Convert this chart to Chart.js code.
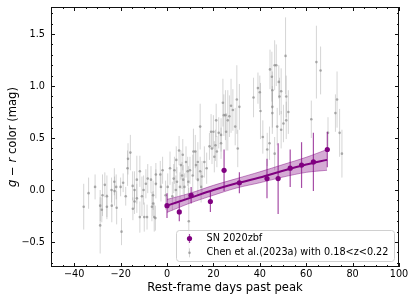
<!DOCTYPE html>
<html>
<head>
<meta charset="utf-8">
<script src="https://cdn.jsdelivr.net/npm/chart.js@4.4.1/dist/chart.umd.min.js"></script>
<style>
  html, body { margin: 0; padding: 0; background: #fff; }
  canvas { display: block; }
</style>
</head>
<body>
<canvas id="chart" width="415" height="302"></canvas>
<script>
// SN 2020zbf g-r colour
var snDays  = [0.0, 5.3, 10.4, 18.7, 24.6, 31.2, 43.1, 47.9, 53.1, 58.0, 63.1, 69.1];
var snColor = [-0.15, -0.21, -0.05, -0.11, 0.19, 0.07, 0.11, 0.11, 0.21, 0.24, 0.27, 0.39];
var snErr   = [0.12, 0.09, 0.08, 0.10, 0.20, 0.10, 0.19, 0.34, 0.18, 0.22, 0.28, 0.17];

// fit to SN 2020zbf with its band
var fitDays = [0, 10, 20, 30, 40, 50, 60, 69];
var fitMid  = [-0.15, -0.075, 0.0, 0.065, 0.12, 0.185, 0.245, 0.29];
var fitLow  = [-0.215, -0.125, -0.05, 0.02, 0.07, 0.125, 0.17, 0.19];
var fitHigh = [-0.09, -0.03, 0.045, 0.11, 0.175, 0.245, 0.315, 0.39];

// comparison sample, Chen et al. (2023a), 0.18<z<0.22
var chenDays = [-35.9, -33.8, -31.0, -28.8, -28.8, -28.1, -27.8, -26.8, -25.9, -25.9,
    -23.9, -23.8, -22.7, -22.6, -21.9, -21.7, -20.0, -19.6, -18.9, -17.8,
    -17.0, -16.8, -15.8, -14.8, -14.0, -14.7, -14.0, -13.0, -13.0, -11.7,
    -11.7, -10.8, -10.1, -9.8, -9.1, -8.6, -8.3, -6.9, -6.5, -6.0,
    -6.0, -5.5, -5.0, -4.8, -4.8, -2.9, -2.6, -1.9, -0.6, 0.3,
    1.3, 2.3, 2.9, 3.2, 3.8, 4.0, 4.3, 5.2, 5.6, 6.0,
    6.5, 6.8, 7.0, 7.5, 8.2, 8.9, 9.2, 9.4, 9.9, 11.1,
    11.4, 12.2, 12.5, 13.3, 13.3, 14.3, 14.3, 14.7, 15.1, 16.1,
    17.1, 18.3, 19.0, 19.4, 20.0, 20.4, 20.9, 21.2, 21.5, 22.3,
    23.3, 23.3, 24.1, 24.5, 25.2, 25.5, 26.2, 26.9, 27.6, 28.4,
    29.4, 30.1, 30.5, 31.2, 37.3, 39.2, 40.0, 40.3, 41.3, 43.2,
    44.2, 44.4, 45.2, 45.4, 45.4, 45.4, 46.4, 46.4, 47.1, 47.5,
    48.2, 48.5, 49.2, 49.2, 50.2, 51.1, 51.4, 51.4, 52.3, 62.2,
    64.4, 66.2, 69.4, 72.6, 73.3, 74.4, 75.4];
var chenColor = [-0.16, -0.03, 0.03, -0.15, -0.34, -0.19, -0.05, 0.05, -0.06, -0.16,
    0.00, -0.15, 0.08, -0.01, 0.03, -0.17, 0.03, -0.40, 0.07, -0.06,
    0.21, 0.30, 0.36, 0.04, 0.00, -0.18, -0.11, 0.10, -0.08, 0.18,
    -0.26, -0.06, 0.00, -0.26, 0.06, -0.26, 0.11, 0.10, -0.16, -0.05,
    -0.13, -0.26, -0.27, 0.15, 0.06, 0.15, 0.03, 0.19, -0.05, 0.03,
    0.21, -0.06, 0.11, 0.19, 0.00, 0.29, 0.08, 0.38, 0.03, 0.24,
    0.14, 0.34, 0.10, 0.03, 0.27, 0.18, 0.08, -0.30, 0.19, 0.14,
    0.37, 0.37, 0.24, 0.27, 0.10, 0.61, 0.18, 0.03, 0.13, 0.27,
    0.21, 0.42, 0.56, 0.40, 0.56, 0.32, 0.43, 0.67, 0.37, 0.55,
    0.53, 0.45, 0.84, 0.72, 0.72, 0.56, 0.67, 0.71, 0.81, 0.77,
    0.61, 0.87, 0.40, 0.80, 0.89, 0.98, 0.94, 0.76, 0.51, 0.39,
    0.45, 1.16, 1.09, 0.96, 0.80, 0.74, 1.20, 0.35, 1.20, 0.61,
    1.04, 0.90, 0.95, 0.58, 0.64, 1.29, 0.90, 0.67, 0.75, 0.68,
    1.23, 1.15, 0.55, 0.74, 0.87, 0.55, 0.35];
var chenErr = [0.22, 0.15, 0.12, 0.15, 0.27, 0.12, 0.20, 0.12, 0.20, 0.12,
    0.12, 0.16, 0.13, 0.14, 0.12, 0.16, 0.09, 0.13, 0.09, 0.09,
    0.17, 0.15, 0.17, 0.14, 0.18, 0.11, 0.12, 0.23, 0.14, 0.15,
    0.15, 0.19, 0.14, 0.14, 0.14, 0.12, 0.14, 0.13, 0.14, 0.14,
    0.12, 0.14, 0.12, 0.11, 0.14, 0.13, 0.14, 0.13, 0.14, 0.13,
    0.16, 0.14, 0.14, 0.13, 0.14, 0.13, 0.14, 0.14, 0.14, 0.14,
    0.13, 0.15, 0.14, 0.13, 0.15, 0.14, 0.15, 0.32, 0.13, 0.20,
    0.22, 0.16, 0.14, 0.19, 0.15, 0.22, 0.14, 0.15, 0.15, 0.15,
    0.15, 0.13, 0.17, 0.15, 0.16, 0.15, 0.15, 0.16, 0.15, 0.15,
    0.16, 0.15, 0.23, 0.20, 0.24, 0.18, 0.29, 0.20, 0.26, 0.20,
    0.18, 0.33, 0.18, 0.22, 0.19, 0.15, 0.16, 0.27, 0.16, 0.16,
    0.16, 0.19, 0.24, 0.18, 0.20, 0.20, 0.24, 0.16, 0.20, 0.18,
    0.16, 0.18, 0.22, 0.18, 0.18, 0.37, 0.20, 0.18, 0.21, 0.18,
    0.35, 0.23, 0.15, 0.18, 0.27, 0.23, 0.23];

var xTicks = [-40, -20, 0, 20, 40, 60, 80, 100];
var yTicks = [-0.5, 0.0, 0.5, 1.0, 1.5];

var FONT = 'DejaVu Sans';
var PURPLE = '#800080';

function points(xs, ys) {
    return xs.map(function(x, i) { return { x: x, y: ys[i] }; });
}

function minus(s) {
    return s.replace('-', '\u2212');
}

// vertical error bars, drawn just under each scatter's markers
var errorBars = {
    id: 'errorBars',
    beforeDatasetDraw: function(chart, args) {
        var ds = chart.data.datasets[args.index];
        if (!ds.errors) return;
        var xs = chart.scales.x, ys = chart.scales.y, ctx = chart.ctx, a = chart.chartArea;
        ctx.save();
        ctx.beginPath();
        ctx.rect(a.left, a.top, a.right - a.left, a.bottom - a.top);
        ctx.clip();
        ctx.strokeStyle = ds.errorColor;
        ctx.lineWidth = ds.errorWidth;
        ds.data.forEach(function(p, i) {
            var px = xs.getPixelForValue(p.x);
            ctx.beginPath();
            ctx.moveTo(px, ys.getPixelForValue(p.y - ds.errors[i]));
            ctx.lineTo(px, ys.getPixelForValue(p.y + ds.errors[i]));
            ctx.stroke();
        });
        ctx.restore();
    }
};

// matplotlib style box: frame, inward ticks on all sides, axis titles, legend
var frame = {
    id: 'frame',
    afterDatasetsDraw: function(chart) {
        var ctx = chart.ctx, a = chart.chartArea;
        var xs = chart.scales.x, ys = chart.scales.y;
        ctx.save();
        ctx.strokeStyle = '#111';
        ctx.lineWidth = 1;
        ctx.strokeRect(a.left + 0.5, a.top + 0.5, a.right - a.left - 1, a.bottom - a.top - 1);

        var tick = function(x1, y1, x2, y2) {
            ctx.beginPath(); ctx.moveTo(x1, y1); ctx.lineTo(x2, y2); ctx.stroke();
        };
        var v, p, len;
        for (v = -50; v <= 100; v += 5) {
            p = Math.round(xs.getPixelForValue(v)) + 0.5;
            len = (v % 20 === 0) ? 4 : 2;
            tick(p, a.bottom, p, a.bottom - len);
            tick(p, a.top, p, a.top + len);
        }
        for (var k = -7; k <= 17; k++) {
            v = k / 10;
            p = Math.round(ys.getPixelForValue(v)) + 0.5;
            len = (k % 5 === 0) ? 4 : 2;
            tick(a.left, p, a.left + len, p);
            tick(a.right, p, a.right - len, p);
        }
        ctx.restore();
    },
    afterDraw: function(chart) {
        var ctx = chart.ctx, a = chart.chartArea;
        ctx.save();
        ctx.fillStyle = '#000';

        // x title
        ctx.font = '11.6px "' + FONT + '"';
        ctx.textAlign = 'center';
        ctx.textBaseline = 'middle';
        ctx.fillText('Rest-frame days past peak', (a.left + a.right) / 2, 288);

        // y title with italic g and r
        var parts = [['g', 'italic '], [' \u2212 ', ''], ['r', 'italic '], [' color (mag)', '']];
        var total = 0;
        parts.forEach(function(pt) {
            ctx.font = pt[1] + '11.6px "' + FONT + '"';
            total += ctx.measureText(pt[0]).width;
        });
        ctx.translate(13, (a.top + a.bottom) / 2);
        ctx.rotate(-Math.PI / 2);
        ctx.textAlign = 'left';
        var cx = -total / 2;
        parts.forEach(function(pt) {
            ctx.font = pt[1] + '11.6px "' + FONT + '"';
            ctx.fillText(pt[0], cx, 0);
            cx += ctx.measureText(pt[0]).width;
        });
        ctx.restore();

        // legend box
        ctx.save();
        var bx = 176.5, by = 230.5, bw = 218, bh = 31, r = 3;
        ctx.beginPath();
        ctx.moveTo(bx + r, by);
        ctx.arcTo(bx + bw, by, bx + bw, by + bh, r);
        ctx.arcTo(bx + bw, by + bh, bx, by + bh, r);
        ctx.arcTo(bx, by + bh, bx, by, r);
        ctx.arcTo(bx, by, bx + bw, by, r);
        ctx.closePath();
        ctx.fillStyle = 'rgba(255,255,255,0.8)';
        ctx.fill();
        ctx.strokeStyle = '#d0d0d0';
        ctx.lineWidth = 1;
        ctx.stroke();

        var ds = chart.data.datasets;
        var rows = [ds[4], ds[0]];
        rows.forEach(function(d, i) {
            var y = 238.5 + i * 14.3, x = 189.5;
            ctx.strokeStyle = d.errorColor;
            ctx.lineWidth = d.errorWidth;
            ctx.beginPath(); ctx.moveTo(x, y - 4.5); ctx.lineTo(x, y + 4.5); ctx.stroke();
            ctx.fillStyle = d.backgroundColor;
            ctx.beginPath(); ctx.arc(x, y, d.pointRadius, 0, Math.PI * 2); ctx.fill();
            ctx.fillStyle = '#000';
            ctx.font = '9.7px "' + FONT + '"';
            ctx.textAlign = 'left';
            ctx.textBaseline = 'middle';
            ctx.fillText(d.label, 206.5, y);
        });
        ctx.restore();
    }
};

// fixed box sizes so the plot area lands where the original one is
function fixX(scale) {
    scale.height = 35;
    scale.paddingLeft = 0;
    scale.paddingRight = 0;
}
function fixY(scale) {
    scale.width = 51;
    scale.paddingTop = 0;
    scale.paddingBottom = 0;
}

var chart = new Chart(document.getElementById('chart'), {
    type: 'scatter',
    data: {
        datasets: [{
            label: 'Chen et al.(2023a) with 0.18<z<0.22',
            data: points(chenDays, chenColor),
            errors: chenErr,
            errorColor: 'rgba(150,150,150,0.4)',
            errorWidth: 1,
            pointRadius: 1.3,
            backgroundColor: 'rgba(140,140,140,0.7)',
            borderWidth: 0,
            order: 4
        }, {
            label: '',
            data: points(fitDays, fitLow),
            showLine: true,
            pointRadius: 0,
            borderColor: 'rgba(128,0,128,0.55)',
            borderWidth: 0.8,
            fill: false,
            tension: 0.3,
            order: 3
        }, {
            label: '',
            data: points(fitDays, fitHigh),
            showLine: true,
            pointRadius: 0,
            borderColor: 'rgba(128,0,128,0.55)',
            borderWidth: 0.8,
            backgroundColor: 'rgba(128,0,128,0.33)',
            fill: '-1',
            tension: 0.3,
            order: 2
        }, {
            label: '',
            data: points(fitDays, fitMid),
            showLine: true,
            pointRadius: 0,
            borderColor: PURPLE,
            borderWidth: 2,
            tension: 0.3,
            order: 1
        }, {
            label: 'SN 2020zbf',
            data: points(snDays, snColor),
            errors: snErr,
            errorColor: 'rgba(128,0,128,0.7)',
            errorWidth: 1.2,
            pointRadius: 2.6,
            backgroundColor: PURPLE,
            borderWidth: 0,
            order: 0
        }]
    },
    options: {
        responsive: false,
        animation: false,
        events: [],
        layout: { padding: { top: 7, right: 16, left: 0, bottom: 0 } },
        plugins: {
            legend: { display: false },
            tooltip: { enabled: false }
        },
        scales: {
            x: {
                type: 'linear',
                min: -50,
                max: 100,
                grid: { display: false, drawTicks: false },
                border: { display: false },
                afterBuildTicks: function(scale) {
                    scale.ticks = xTicks.map(function(v) { return { value: v }; });
                },
                afterFit: fixX,
                ticks: {
                    padding: 1.5,
                    color: '#000',
                    font: { family: FONT, size: 9.7 },
                    callback: function(v) { return minus(String(v)); }
                }
            },
            y: {
                type: 'linear',
                min: -0.74,
                max: 1.76,
                grid: { display: false, drawTicks: false },
                border: { display: false },
                afterBuildTicks: function(scale) {
                    scale.ticks = yTicks.map(function(v) { return { value: v }; });
                },
                afterFit: fixY,
                ticks: {
                    padding: 6,
                    color: '#000',
                    font: { family: FONT, size: 9.7 },
                    callback: function(v) { return minus(v.toFixed(1)); }
                }
            }
        }
    },
    plugins: [errorBars, frame]
});
</script>
</body>
</html>
